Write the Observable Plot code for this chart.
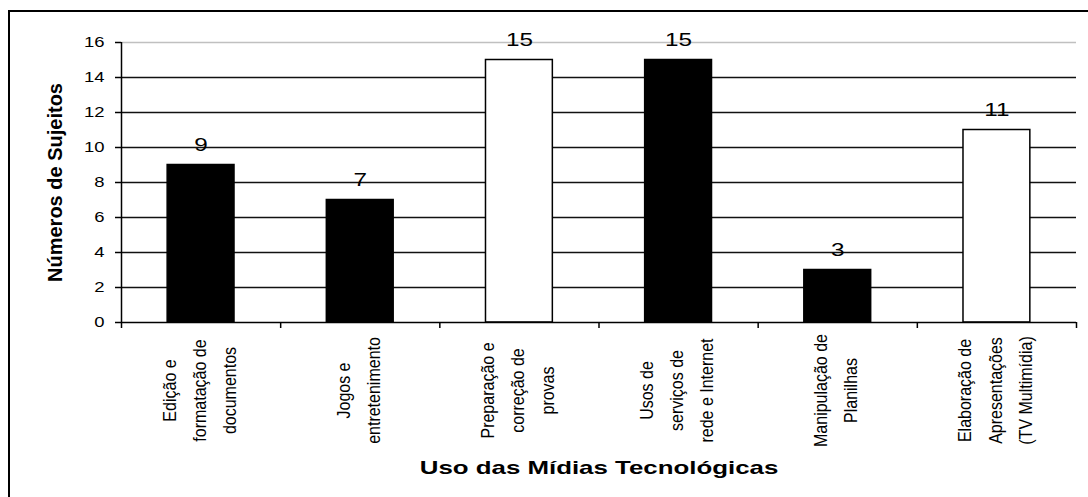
<!DOCTYPE html>
<html><head><meta charset="utf-8">
<script src="https://cdn.jsdelivr.net/npm/d3@7"></script>
<script src="https://cdn.jsdelivr.net/npm/@observablehq/plot@0.6"></script>
<style>
body{margin:0;background:#fff;}
#wrap{position:relative;width:1088px;height:497px;overflow:hidden;}
#wrap svg{position:absolute;left:0;top:0;}
#border{position:absolute;left:8px;top:10px;width:1100px;height:520px;border-left:2px solid #000;border-top:2px solid #000;pointer-events:none;}
</style></head><body><div id="wrap"><div id="border"></div></div>
<script>
const categories = [
  "Edição e\nformatação de\ndocumentos",
  "Jogos e\nentretenimento",
  "Preparação e\ncorreção de\nprovas",
  "Usos de\nserviços de\nrede e Internet",
  "Manipulação de\nPlanilhas",
  "Elaboração de\nApresentações\n(TV Multimídia)"
];
const values = [9, 7, 15, 15, 3, 11];
const outlined = [false, false, true, false, false, true];
const yTicks = [0, 2, 4, 6, 8, 10, 12, 14, 16];
const yTitle = "Números de Sujeitos";
const xTitle = "Uso das Mídias Tecnológicas";

const data = categories.map((c, i) => ({i, c, v: values[i], o: outlined[i]}));
const barHalf = 0.21;

const plot = Plot.plot({
  width: 1088, height: 497,
  marginLeft: 121, marginRight: 12, marginTop: 42, marginBottom: 175,
  style: {fontFamily: "'Liberation Sans', Arial, sans-serif", background: "transparent", color: "#000"},
  x: {type: "linear", domain: [0, categories.length], axis: null},
  y: {domain: [0, 16], axis: null},
  marks: [
    Plot.ruleY(yTicks.filter(t => t > 0 && t < 16), {stroke: "#111", strokeWidth: 1.4}),
    Plot.ruleY([16], {stroke: "#c0c0c0", strokeWidth: 1.4}),
    Plot.rectY(data, {x1: d => d.i + 0.5 - barHalf, x2: d => d.i + 0.5 + barHalf, y1: 0, y2: "v",
      fill: d => d.o ? "#fff" : "#000", stroke: "#000", strokeWidth: 1.5}),
    Plot.text(data, {x: d => d.i + 0.5, y: "v", text: d => String(d.v), dy: -20, fontSize: 18}),
    Plot.axisY({ticks: yTicks, tickSize: 6, tickPadding: 11, fontSize: 15, label: null, strokeWidth: 1.5}),
    Plot.ruleX([0], {stroke: "#000", strokeWidth: 1.5}),
    Plot.ruleY([0], {stroke: "#000", strokeWidth: 1.5}),
    Plot.axisX({ticks: d3.range(categories.length + 1), tickSize: 6, tickFormat: () => "", label: null, strokeWidth: 1.5}),
    Plot.axisX({ticks: data.map(d => d.i + 0.5), tickSize: 0, tickPadding: 68, tickRotate: -90,
      tickFormat: t => categories[Math.floor(t)], textAnchor: "middle", lineAnchor: "middle",
      lineHeight: 1.67, fontSize: 18, dx: -5, label: null}),
    Plot.text([yTitle], {frameAnchor: "left", rotate: -90, dx: -66, textAnchor: "middle", fontSize: 20, fontWeight: "bold"}),
    Plot.text([xTitle], {frameAnchor: "bottom", dy: 151, fontSize: 19, fontWeight: "bold"})
  ]
});
document.getElementById("wrap").prepend(plot);

const factors = {15: 1.23, 18: 1.35, 19: 1.36};
plot.querySelectorAll("text").forEach(t => {
  const tr = (t.getAttribute("transform") || "") + (t.parentNode.getAttribute("transform") || "");
  const fs = Math.round(parseFloat(getComputedStyle(t).fontSize));
  if (tr.includes("rotate")) {
    if (fs === 18 && t.getAttribute("transform")) {
      t.setAttribute("transform", t.getAttribute("transform") + " scale(0.89,1)");
    }
    return;
  }
  const f = factors[fs];
  if (!f || !t.textContent) return;
  const len = t.getComputedTextLength();
  t.setAttribute("textLength", len * f);
  t.setAttribute("lengthAdjust", "spacingAndGlyphs");
});
</script>
</body></html>
